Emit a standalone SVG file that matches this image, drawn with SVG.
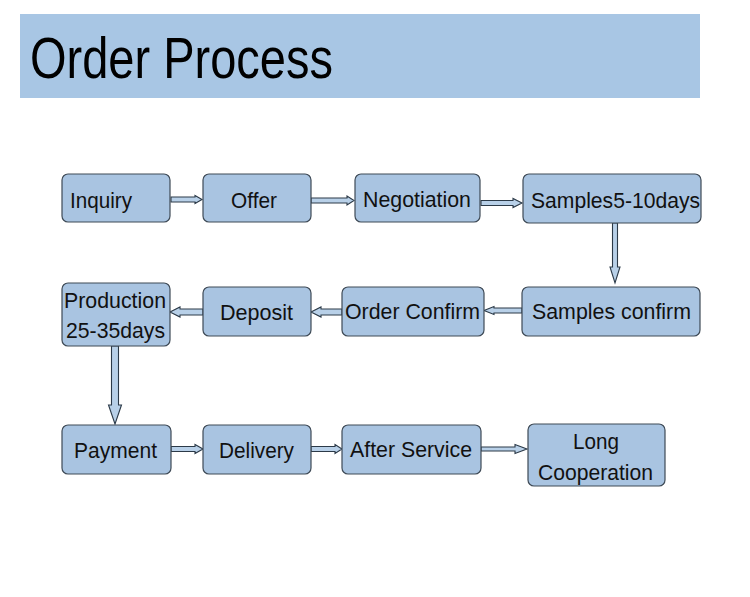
<svg xmlns="http://www.w3.org/2000/svg" width="750" height="597" viewBox="0 0 750 597">
<style>
.box{fill:#a9c4e1;stroke:#3e4a56;stroke-width:1.2}
.t{font-family:"Liberation Sans",Arial,sans-serif;font-size:22.5px;fill:#111;text-anchor:start}
.arr{fill:#b8d0e8;stroke:#2c3a48;stroke-width:1.1;stroke-linejoin:miter}
</style>
<rect width="750" height="597" fill="#ffffff"/>
<g id="title">
<rect x="20" y="14" width="680" height="84" fill="#a8c6e4"/>
<text x="30" y="78" font-family="'Liberation Sans',Arial,sans-serif" font-size="57" fill="#000" textLength="303" lengthAdjust="spacingAndGlyphs">Order Process</text>
</g>
<g id="connectors">
<polygon class="arr" points="171,197 195,197 195,195.5 202,199.5 195,203.5 195,202 171,202"/>
<polygon class="arr" points="311,198 347,198 347,196 354,200.5 347,205 347,203 311,203"/>
<polygon class="arr" points="481,200.5 513,200.5 513,198.5 522,203 513,207.5 513,205.5 481,205.5"/>
<polygon class="arr" points="612.5,223 617.5,223 617.5,267 620,267 615,283 610,267 612.5,267"/>
<polygon class="arr" points="522,308 494,308 494,306.5 484,310.5 494,314.5 494,313 522,313"/>
<polygon class="arr" points="342,309 321,309 321,307 311,312 321,317 321,315 342,315"/>
<polygon class="arr" points="203,309 180,309 180,307 170,312 180,317 180,315 203,315"/>
<polygon class="arr" points="111.5,346 118.5,346 118.5,405 121.5,405 115,424 108.5,405 111.5,405"/>
<polygon class="arr" points="171,446.5 195,446.5 195,444.5 203,449 195,453.5 195,451.5 171,451.5"/>
<polygon class="arr" points="311,446.5 335,446.5 335,444.5 342,449 335,453.5 335,451.5 311,451.5"/>
<polygon class="arr" points="481,447 515,447 515,444.5 527,449 515,453.5 515,451 481,451"/>
</g>
<g id="inquiry"><rect class="box" x="62" y="174" width="108" height="48" rx="6"/><text class="t" x="70" y="208" textLength="62" lengthAdjust="spacingAndGlyphs">Inquiry</text></g>
<g id="offer"><rect class="box" x="203" y="174" width="108" height="48" rx="6"/><text class="t" x="231" y="208" textLength="46" lengthAdjust="spacingAndGlyphs">Offer</text></g>
<g id="negotiation"><rect class="box" x="355" y="174" width="125" height="48" rx="6"/><text class="t" x="363" y="207" textLength="108" lengthAdjust="spacingAndGlyphs">Negotiation</text></g>
<g id="samples"><rect class="box" x="523" y="174" width="178" height="49" rx="6"/><text class="t" x="531" y="208" textLength="169" lengthAdjust="spacingAndGlyphs">Samples5-10days</text></g>
<g id="samples-confirm"><rect class="box" x="522" y="287" width="178" height="49" rx="6"/><text class="t" x="532" y="319" textLength="159" lengthAdjust="spacingAndGlyphs">Samples confirm</text></g>
<g id="order-confirm"><rect class="box" x="342" y="287" width="142" height="49" rx="6"/><text class="t" x="345" y="319" textLength="135" lengthAdjust="spacingAndGlyphs">Order Confirm</text></g>
<g id="deposit"><rect class="box" x="203" y="287" width="108" height="49" rx="6"/><text class="t" x="220" y="320" textLength="73" lengthAdjust="spacingAndGlyphs">Deposit</text></g>
<g id="production"><rect class="box" x="62" y="283" width="108" height="63" rx="6"/><text class="t" x="64" y="308" textLength="102" lengthAdjust="spacingAndGlyphs">Production</text><text class="t" x="66" y="338" textLength="99" lengthAdjust="spacingAndGlyphs">25-35days</text></g>
<g id="payment"><rect class="box" x="62" y="425" width="109" height="49" rx="6"/><text class="t" x="74" y="458" textLength="83" lengthAdjust="spacingAndGlyphs">Payment</text></g>
<g id="delivery"><rect class="box" x="203" y="425" width="108" height="49" rx="6"/><text class="t" x="219" y="458" textLength="75" lengthAdjust="spacingAndGlyphs">Delivery</text></g>
<g id="after-service"><rect class="box" x="342" y="425" width="139" height="49" rx="6"/><text class="t" x="350" y="457" textLength="122" lengthAdjust="spacingAndGlyphs">After Service</text></g>
<g id="long-cooperation"><rect class="box" x="528" y="424" width="137" height="62" rx="6"/><text class="t" x="573" y="449" textLength="46" lengthAdjust="spacingAndGlyphs">Long</text><text class="t" x="538" y="480" textLength="115" lengthAdjust="spacingAndGlyphs">Cooperation</text></g>
</svg>
